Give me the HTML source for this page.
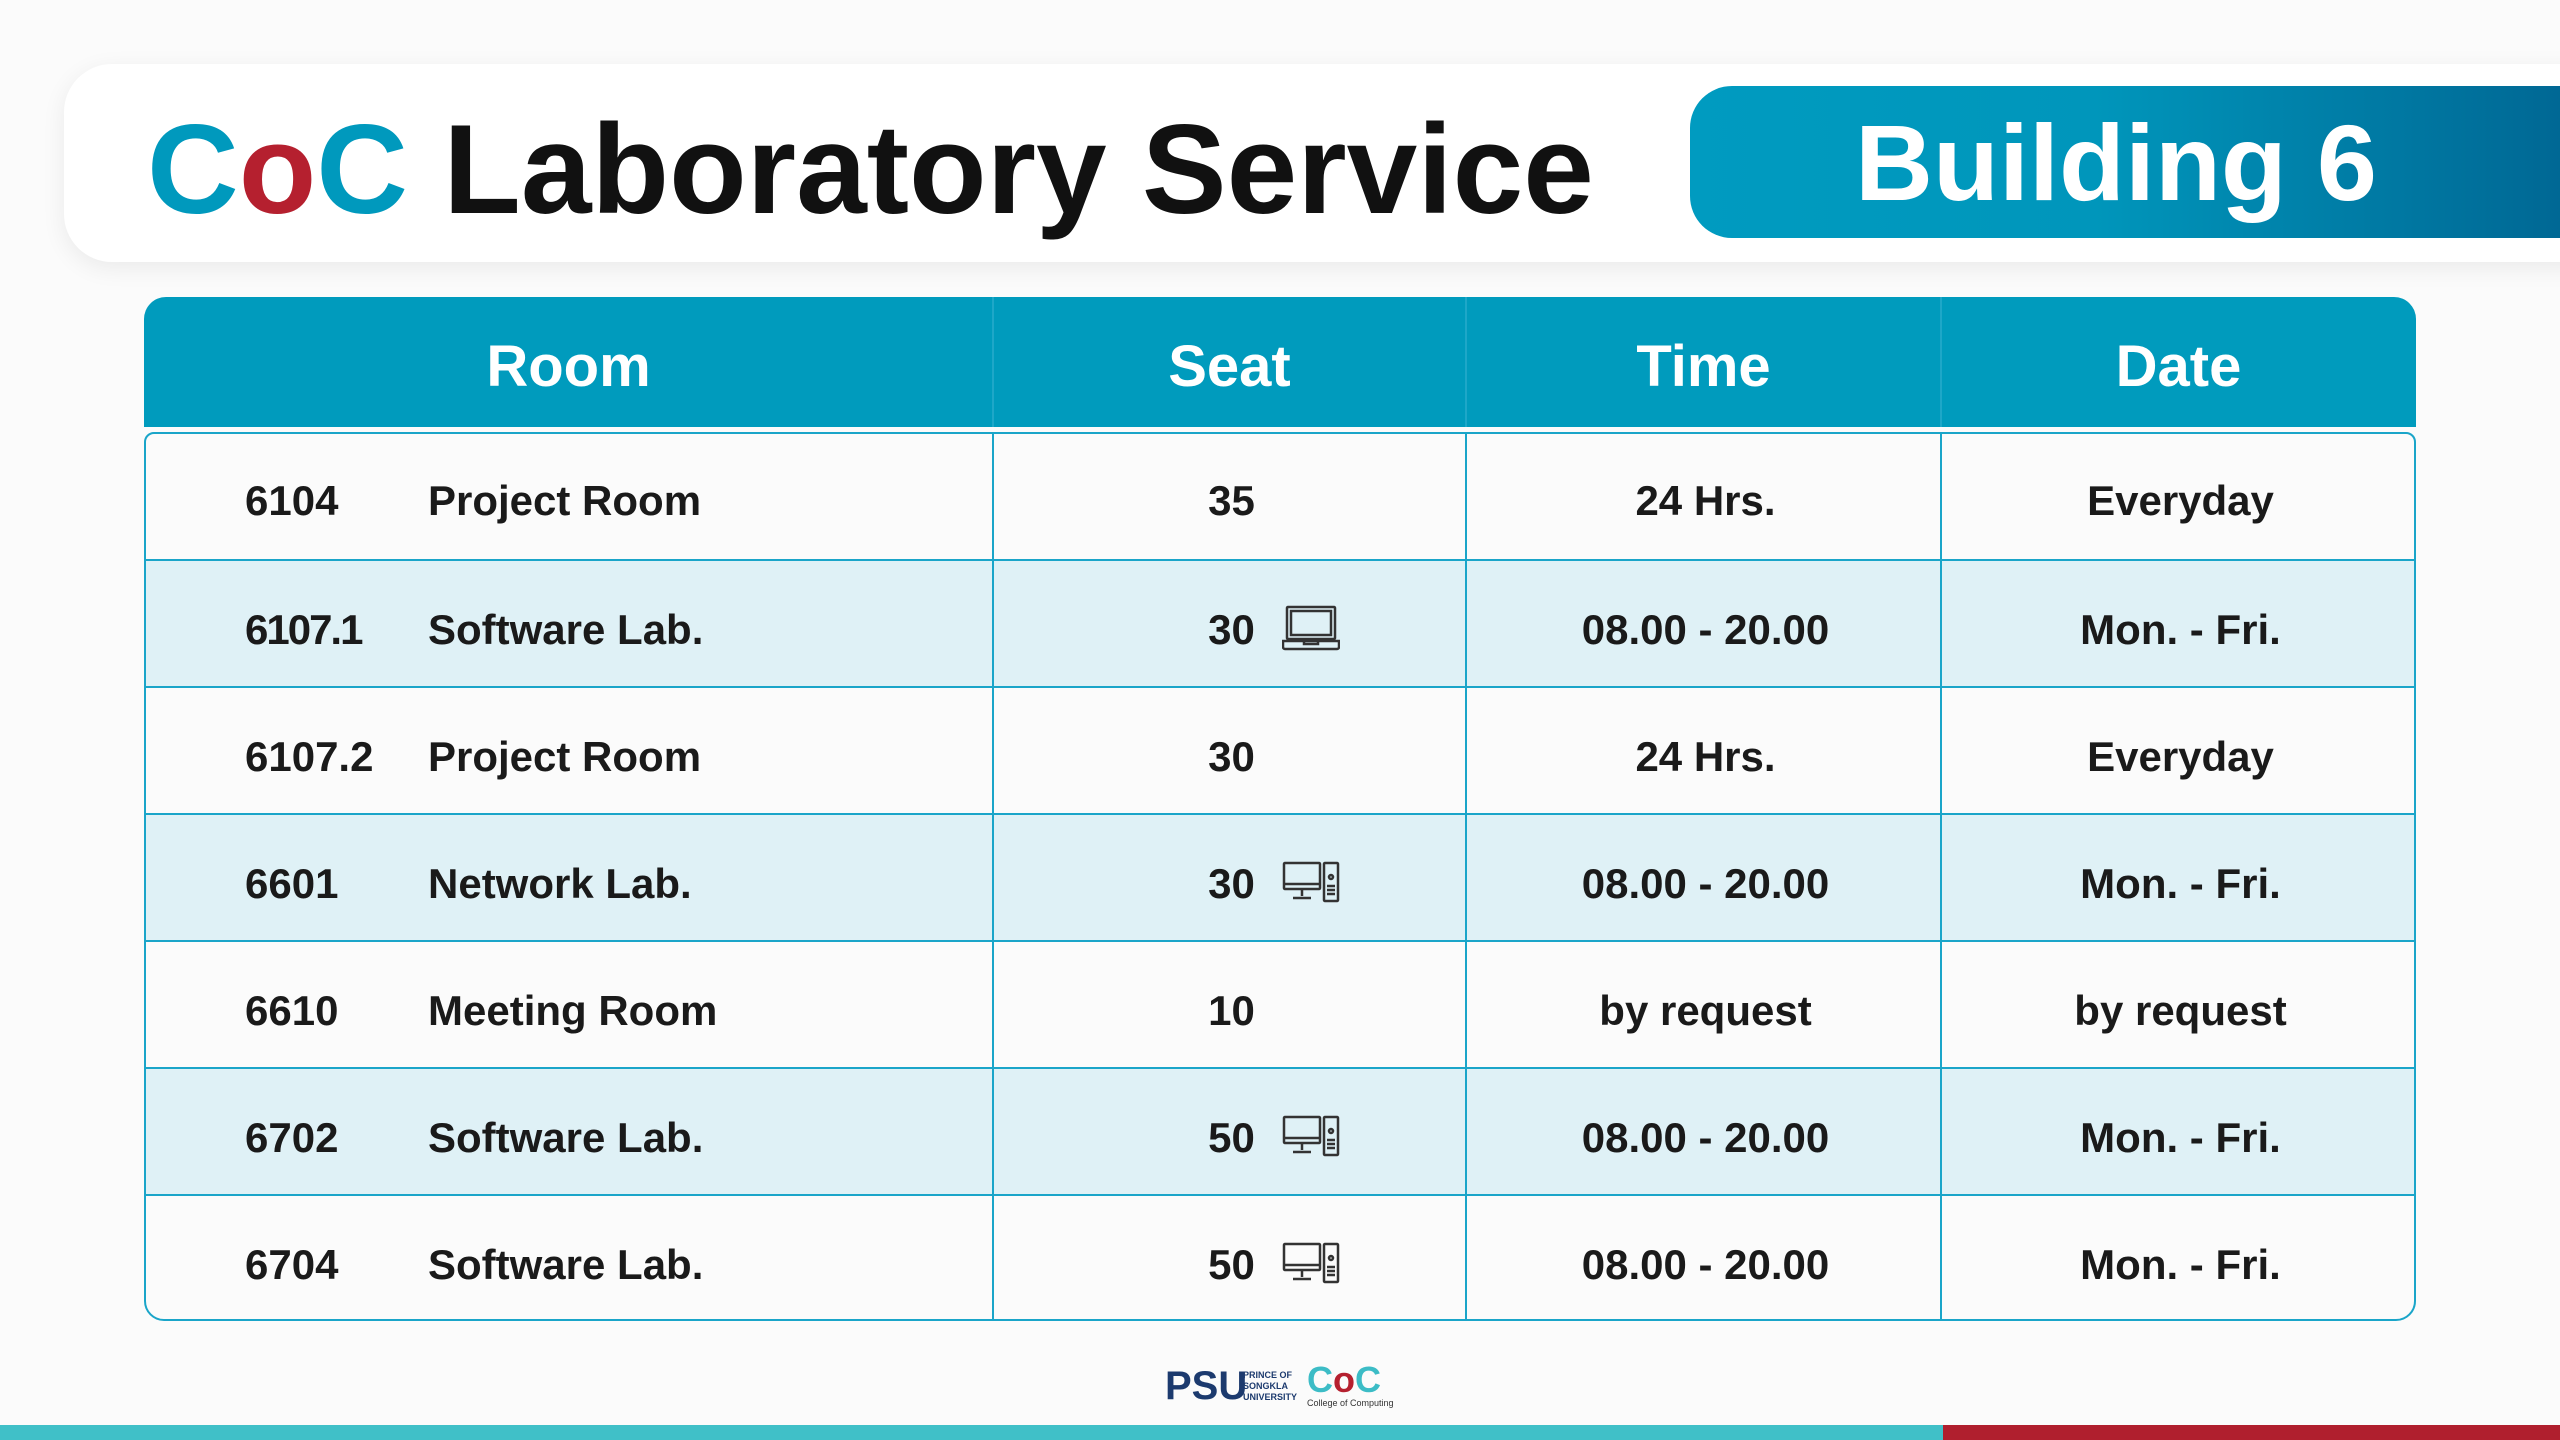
<!DOCTYPE html>
<html><head><meta charset="utf-8"><style>
*{margin:0;padding:0;box-sizing:border-box}
body{width:2560px;height:1440px;overflow:hidden;background:#fbfbfb;font-family:"Liberation Sans",sans-serif;position:relative}
.abs{position:absolute}
.card{left:64px;top:64px;width:2560px;height:198px;background:#fff;border-radius:48px;box-shadow:0 6px 24px rgba(0,0,0,0.07)}
.title{left:147px;top:94px;font-size:127px;font-weight:bold;color:#111;white-space:nowrap;line-height:150px}
.pill{left:1690px;top:86px;width:900px;height:152px;border-radius:42px 0 0 42px;background:linear-gradient(90deg,#009bc0 0%,#0096bb 45%,#006592 100%)}
.bld{left:1855px;top:88px;font-size:108px;font-weight:bold;color:#fff;line-height:150px;white-space:nowrap}
.thead{left:144px;top:297px;width:2272px;height:130px;background:#009bbd;border-radius:22px 22px 0 0}
.th{position:absolute;top:5px;height:130px;line-height:130px;color:#fff;font-weight:bold;font-size:58px;text-align:center}
.tbody{left:144px;top:432px;width:2272px;height:889px;border:2px solid #1aa5c9;border-radius:10px 10px 20px 20px;overflow:hidden}
.row{position:absolute;left:0;width:2272px;height:127px;border-top:2px solid #1aa5c9}
.row.b{background:rgba(200,233,243,0.55)}
.c{position:absolute;top:6px;height:125px;line-height:125px;font-size:42px;font-weight:bold;color:#1a1a1a;white-space:nowrap}
.vl{position:absolute;top:297px;width:2px;height:1024px;background:#1aa5c9}
.vlh{background:#3cb4d3}
svg.abs{margin-top:4px}
</style></head><body>
<div class="abs card"></div>
<div class="abs title"><span style="color:#0099bd">C</span><span style="color:#b5202f">o</span><span style="color:#0099bd">C</span> Laboratory Service</div>
<div class="abs pill"></div>
<div class="abs bld">Building 6</div>

<div class="abs thead">
<div class="th" style="left:0;width:849px">Room</div>
<div class="th" style="left:849px;width:473px">Seat</div>
<div class="th" style="left:1322px;width:475px">Time</div>
<div class="th" style="left:1797px;width:475px">Date</div>
</div>

<div class="abs tbody">
<div class="row" style="top:-2px;border-top:none">
<div class="c" style="left:99px">6104</div><div class="c" style="left:282px">Project Room</div>
<div class="c" style="left:849px;width:473px;text-align:center">35</div>
<div class="c" style="left:1322px;width:475px;text-align:center">24 Hrs.</div>
<div class="c" style="left:1797px;width:475px;text-align:center">Everyday</div></div>

<div class="row b" style="top:125px">
<div class="c" style="left:99px;letter-spacing:-2px">6107.1</div><div class="c" style="left:282px">Software Lab.</div>
<div class="c" style="left:849px;width:473px;text-align:center">30</div>
<svg class="abs" style="left:1136px;top:40px" width="58" height="46" viewBox="0 0 58 46" fill="none" stroke="#333" stroke-width="2.5"><rect x="5" y="2" width="48" height="32" rx="1"/><rect x="9" y="6" width="40" height="24"/><path d="M1 36h56v6a2 2 0 0 1-2 2H3a2 2 0 0 1-2-2z"/><path d="M22 36v3h14v-3"/></svg>
<div class="c" style="left:1322px;width:475px;text-align:center">08.00 - 20.00</div>
<div class="c" style="left:1797px;width:475px;text-align:center">Mon. - Fri.</div></div>

<div class="row" style="top:252px">
<div class="c" style="left:99px">6107.2</div><div class="c" style="left:282px">Project Room</div>
<div class="c" style="left:849px;width:473px;text-align:center">30</div>
<div class="c" style="left:1322px;width:475px;text-align:center">24 Hrs.</div>
<div class="c" style="left:1797px;width:475px;text-align:center">Everyday</div></div>

<div class="row b" style="top:379px">
<div class="c" style="left:99px">6601</div><div class="c" style="left:282px">Network Lab.</div>
<div class="c" style="left:849px;width:473px;text-align:center">30</div>
<svg class="abs" style="left:1136px;top:42px" width="58" height="42" viewBox="0 0 58 42" fill="none" stroke="#333" stroke-width="2.5"><rect x="2" y="2" width="36" height="26" rx="1"/><path d="M2 23h36M20 28v7M11 37h18"/><rect x="42" y="2" width="14" height="38" rx="1"/><circle cx="49" cy="16" r="2"/><path d="M45 25h8M45 29h8M45 33h8"/></svg>
<div class="c" style="left:1322px;width:475px;text-align:center">08.00 - 20.00</div>
<div class="c" style="left:1797px;width:475px;text-align:center">Mon. - Fri.</div></div>

<div class="row" style="top:506px">
<div class="c" style="left:99px">6610</div><div class="c" style="left:282px">Meeting Room</div>
<div class="c" style="left:849px;width:473px;text-align:center">10</div>
<div class="c" style="left:1322px;width:475px;text-align:center">by request</div>
<div class="c" style="left:1797px;width:475px;text-align:center">by request</div></div>

<div class="row b" style="top:633px">
<div class="c" style="left:99px">6702</div><div class="c" style="left:282px">Software Lab.</div>
<div class="c" style="left:849px;width:473px;text-align:center">50</div>
<svg class="abs" style="left:1136px;top:42px" width="58" height="42" viewBox="0 0 58 42" fill="none" stroke="#333" stroke-width="2.5"><rect x="2" y="2" width="36" height="26" rx="1"/><path d="M2 23h36M20 28v7M11 37h18"/><rect x="42" y="2" width="14" height="38" rx="1"/><circle cx="49" cy="16" r="2"/><path d="M45 25h8M45 29h8M45 33h8"/></svg>
<div class="c" style="left:1322px;width:475px;text-align:center">08.00 - 20.00</div>
<div class="c" style="left:1797px;width:475px;text-align:center">Mon. - Fri.</div></div>

<div class="row" style="top:760px">
<div class="c" style="left:99px">6704</div><div class="c" style="left:282px">Software Lab.</div>
<div class="c" style="left:849px;width:473px;text-align:center">50</div>
<svg class="abs" style="left:1136px;top:42px" width="58" height="42" viewBox="0 0 58 42" fill="none" stroke="#333" stroke-width="2.5"><rect x="2" y="2" width="36" height="26" rx="1"/><path d="M2 23h36M20 28v7M11 37h18"/><rect x="42" y="2" width="14" height="38" rx="1"/><circle cx="49" cy="16" r="2"/><path d="M45 25h8M45 29h8M45 33h8"/></svg>
<div class="c" style="left:1322px;width:475px;text-align:center">08.00 - 20.00</div>
<div class="c" style="left:1797px;width:475px;text-align:center">Mon. - Fri.</div></div>
</div>

<div class="vl vlh" style="left:992px;height:130px;opacity:.5"></div>
<div class="vl vlh" style="left:1465px;height:130px;opacity:.5"></div>
<div class="vl vlh" style="left:1940px;height:130px;opacity:.5"></div>
<div class="vl" style="left:992px;top:432px;height:889px"></div>
<div class="vl" style="left:1465px;top:432px;height:889px"></div>
<div class="vl" style="left:1940px;top:432px;height:889px"></div>

<div class="abs" style="left:1165px;top:1366px;font-size:40px;font-weight:bold;color:#1c3a6e;line-height:40px">PSU</div>
<div class="abs" style="left:1243px;top:1370px;font-size:9px;font-weight:bold;color:#1c3a6e;line-height:11px">PRINCE OF<br>SONGKLA<br>UNIVERSITY</div>
<div class="abs" style="left:1307px;top:1362px;font-size:36px;font-weight:bold;line-height:36px"><span style="color:#3cbcc6">C</span><span style="color:#b5202f">o</span><span style="color:#3cbcc6">C</span></div>
<div class="abs" style="left:1307px;top:1398px;font-size:9px;color:#333;line-height:10px">College of Computing</div>

<div class="abs" style="left:0;top:1425px;width:1943px;height:15px;background:#40c0c8"></div>
<div class="abs" style="left:1943px;top:1425px;width:617px;height:15px;background:#b01f2e"></div>
</body></html>
